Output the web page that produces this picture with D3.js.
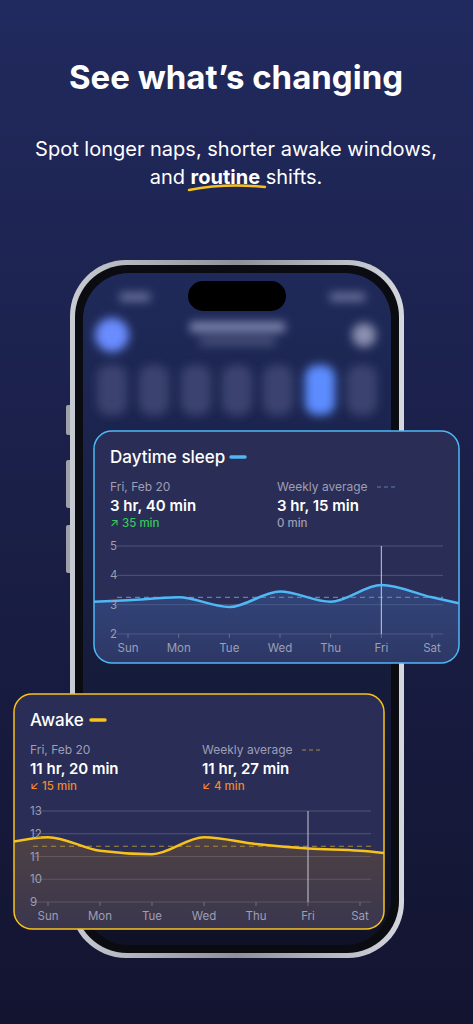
<!DOCTYPE html>
<html><head><meta charset="utf-8">
<script src="https://cdn.jsdelivr.net/npm/d3@7"></script>
<style>
body{margin:0;background:#191c40;}
svg{display:block;font-family:Inter,"Noto Sans",sans-serif;}
</style></head>
<body><svg id="c" width="473" height="1024"></svg>
<script>
const DAYS = ["Sun","Mon","Tue","Wed","Thu","Fri","Sat"];
// x positions are day indexes; the first/last points are where the curve leaves the card
const SLEEP_X = [-0.69, 0, 1, 2, 3, 4, 5, 6, 6.53];
const SLEEP_Y = [3.1, 3.15, 3.25, 2.92, 3.45, 3.1, 3.67, 3.25, 3.05];
const SLEEP_AVG = 3.25;
const SLEEP_TICKS = [2, 3, 4, 5];
const AWAKE_X = [-0.67, 0, 1, 2, 3, 4, 5, 6, 6.48];
const AWAKE_Y = [11.65, 11.85, 11.25, 11.1, 11.85, 11.55, 11.35, 11.25, 11.15];
const AWAKE_AVG = 11.45;
const AWAKE_TICKS = [9, 10, 11, 12, 13];
const SELECTED = 5;

const svg = d3.select("#c");
const defs = svg.append("defs");
const bg = defs.append("linearGradient").attr("id","bg").attr("x1",0).attr("y1",0).attr("x2",0).attr("y2",1);
bg.append("stop").attr("offset",0).attr("stop-color","#212a5e");
bg.append("stop").attr("offset",1).attr("stop-color","#131430");
svg.append("rect").attr("width",473).attr("height",1024).attr("fill","url(#bg)");

// headline
svg.append("text").attr("x",236).attr("y",89).attr("text-anchor","middle").attr("fill","#fff")
  .attr("font-size",33).attr("font-weight",700).text("See what’s changing");
svg.append("text").attr("x",236).attr("y",156).attr("text-anchor","middle").attr("fill","#fff")
  .attr("font-size",20).text("Spot longer naps, shorter awake windows,");
const l2 = svg.append("text").attr("x",236).attr("y",184).attr("text-anchor","middle").attr("fill","#fff").attr("font-size",20);
l2.append("tspan").text("and ");
l2.append("tspan").attr("font-weight",700).text("routine");
l2.append("tspan").text(" shifts.");
svg.append("path").attr("d","M189,190 Q225,183 265,187").attr("fill","none").attr("stroke","#f6c11c").attr("stroke-width",2.5).attr("stroke-linecap","round");

// phone
const blur = defs.append("filter").attr("id","blur").attr("x","-50%").attr("y","-50%").attr("width","200%").attr("height","200%");
blur.append("feGaussianBlur").attr("stdDeviation",5);
const bez = defs.append("linearGradient").attr("id","bez").attr("x1",0).attr("x2",1);
bez.append("stop").attr("offset",0).attr("stop-color","#c9cbd3");
bez.append("stop").attr("offset",0.5).attr("stop-color","#8e909a");
bez.append("stop").attr("offset",1).attr("stop-color","#d5d7de");
[[66,405,30],[66,460,48],[66,525,48],[401,460,70]].forEach(b=>
  svg.append("rect").attr("x",b[0]).attr("y",b[1]).attr("width",6).attr("height",b[2]).attr("rx",2).attr("fill","#9ea0aa"));
svg.append("rect").attr("x",70).attr("y",260).attr("width",334).attr("height",698).attr("rx",56).attr("fill","url(#bez)");
svg.append("rect").attr("x",75).attr("y",265).attr("width",324).attr("height",688).attr("rx",52).attr("fill","#0b0b12");
const scr = defs.append("linearGradient").attr("id","scr").attr("x1",0).attr("y1",0).attr("x2",0).attr("y2",1);
scr.append("stop").attr("offset",0).attr("stop-color","#1f2a5a");
scr.append("stop").attr("offset",1).attr("stop-color","#0f1226");
svg.append("rect").attr("x",83).attr("y",273).attr("width",308).attr("height",672).attr("rx",46).attr("fill","url(#scr)");
svg.append("rect").attr("x",188).attr("y",281).attr("width",98).attr("height",30).attr("rx",15).attr("fill","#000");
const bl = svg.append("g").attr("filter","url(#blur)");
bl.append("circle").attr("cx",112).attr("cy",335).attr("r",17).attr("fill","#6b8cff");
bl.append("circle").attr("cx",364).attr("cy",335).attr("r",12).attr("fill","#8a90b0");
bl.append("rect").attr("x",190).attr("y",322).attr("width",95).attr("height",10).attr("fill","#8088b0");
bl.append("rect").attr("x",200).attr("y",338).attr("width",75).attr("height",7).attr("fill","#505880");
bl.append("rect").attr("x",120).attr("y",293).attr("width",30).attr("height",8).attr("fill","#7077a0");
bl.append("rect").attr("x",330).attr("y",293).attr("width",35).attr("height",8).attr("fill","#7077a0");
[112,154,196,237,278,320,362].forEach((x,i)=>
  bl.append("rect").attr("x",x-15).attr("y",365).attr("width",30).attr("height",50).attr("rx",12)
    .attr("fill", i===5 ? "#5b8cff" : "#3a4270"));

function card(o){
  const g = svg.append("g");
  const cid = "clip"+o.id;
  defs.append("clipPath").attr("id",cid).append("rect").attr("x",o.x).attr("y",o.y).attr("width",o.w).attr("height",o.h).attr("rx",18);
  g.append("rect").attr("x",o.x).attr("y",o.y).attr("width",o.w).attr("height",o.h).attr("rx",18).attr("fill","#2a2d55");
  g.append("text").attr("x",o.x+16).attr("y",o.y+32).attr("fill","#fff").attr("font-size",17).attr("font-weight",500).text(o.title);
  g.append("line").attr("x1",o.x+o.tw).attr("x2",o.x+o.tw+14).attr("y1",o.y+26).attr("y2",o.y+26).attr("stroke",o.color).attr("stroke-width",3.5).attr("stroke-linecap","round");
  const c2 = o.x+o.c2;
  g.append("text").attr("x",o.x+16).attr("y",o.y+60).attr("fill","#9c9fb6").attr("font-size",12).text("Fri, Feb 20");
  g.append("text").attr("x",c2).attr("y",o.y+60).attr("fill","#9c9fb6").attr("font-size",12).text("Weekly average");
  g.append("line").attr("x1",c2+100).attr("x2",c2+120).attr("y1",o.y+56).attr("y2",o.y+56).attr("stroke",o.dash).attr("stroke-width",1.2).attr("stroke-dasharray","4,3");
  g.append("text").attr("x",o.x+16).attr("y",o.y+80).attr("fill","#fff").attr("font-size",15).attr("font-weight",600).text(o.v1);
  g.append("text").attr("x",c2).attr("y",o.y+80).attr("fill","#fff").attr("font-size",15).attr("font-weight",600).text(o.v2);
  g.append("text").attr("x",o.x+16).attr("y",o.y+96).attr("fill",o.d1c).attr("font-size",11.5).attr("font-weight",500).text(o.d1);
  g.append("text").attr("x",c2).attr("y",o.y+96).attr("fill",o.d2c).attr("font-size",11.5).attr("font-weight",500).text(o.d2);

  const x = d3.scaleLinear().domain([0,6]).range(o.xr);
  const y = d3.scaleLinear().domain(d3.extent(o.ticks)).range(o.yr);
  const cg = g.append("g").attr("clip-path",`url(#${cid})`);
  cg.append("g").selectAll("line").data(o.ticks).join("line")
    .attr("x1",o.gx[0]).attr("x2",o.gx[1]).attr("y1",d=>y(d)).attr("y2",d=>y(d)).attr("stroke","#50547a").attr("stroke-width",1);
  g.append("g").selectAll("text").data(o.ticks).join("text")
    .attr("x",o.x+16).attr("y",d=>y(d)+4).attr("fill","#9c9fb6").attr("font-size",11.5).text(d=>d);
  const pts = o.xs.map((v,i)=>[x(v), y(o.ys[i])]);
  const af = defs.append("linearGradient").attr("id","af"+o.id).attr("x1",0).attr("y1",0).attr("x2",0).attr("y2",1);
  af.append("stop").attr("offset",0).attr("stop-color",o.fill).attr("stop-opacity",0.45);
  af.append("stop").attr("offset",1).attr("stop-color",o.fill).attr("stop-opacity",0.2);
  cg.append("path").attr("d",d3.area().x(d=>d[0]).y0(o.h+o.y).y1(d=>d[1]).curve(d3.curveMonotoneX)(pts)).attr("fill",`url(#af${o.id})`);
  cg.append("line").attr("x1",o.gx[0]).attr("x2",o.gx[1]).attr("y1",y(o.avg)).attr("y2",y(o.avg)).attr("stroke",o.dash).attr("stroke-width",1.2).attr("stroke-dasharray","5,4");
  cg.append("line").attr("x1",x(SELECTED)).attr("x2",x(SELECTED)).attr("y1",o.yr[1]).attr("y2",o.yr[0]).attr("stroke","#c8cad8").attr("stroke-width",1);
  cg.append("path").attr("d",d3.line().x(d=>d[0]).y(d=>d[1]).curve(d3.curveMonotoneX)(pts)).attr("fill","none").attr("stroke",o.color).attr("stroke-width",2.5);
  g.append("g").selectAll("line").data(DAYS).join("line")
    .attr("x1",(d,i)=>x(i)).attr("x2",(d,i)=>x(i)).attr("y1",o.yr[0]).attr("y2",o.yr[0]+4).attr("stroke","#6a6e90");
  g.append("g").selectAll("text").data(DAYS).join("text")
    .attr("x",(d,i)=>x(i)).attr("y",o.yr[0]+18).attr("text-anchor","middle").attr("fill","#9c9fb6").attr("font-size",11.5).text(d=>d);
  g.append("rect").attr("x",o.x).attr("y",o.y).attr("width",o.w).attr("height",o.h).attr("rx",18).attr("fill","none").attr("stroke",o.color).attr("stroke-width",1.5);
}

card({id:"s",x:94,y:431,w:365,h:232,title:"Daytime sleep",tw:137,color:"#4fb8f5",dash:"#5d7fb4",fill:"#3d62a8",
  c2:183,v1:"3 hr, 40 min",v2:"3 hr, 15 min",d1:"↗ 35 min",d1c:"#35c75a",d2:"0 min",d2c:"#9c9fb6",
  xs:SLEEP_X,ys:SLEEP_Y,avg:SLEEP_AVG,ticks:SLEEP_TICKS,xr:[128,432],yr:[634,546],gx:[117,443]});
card({id:"a",x:14,y:694,w:370,h:235,title:"Awake",tw:77,color:"#f7c21b",dash:"#a88a3c",fill:"#7a5a30",
  c2:188,v1:"11 hr, 20 min",v2:"11 hr, 27 min",d1:"↙ 15 min",d1c:"#f08a2c",d2:"↙ 4 min",d2c:"#f08a2c",
  xs:AWAKE_X,ys:AWAKE_Y,avg:AWAKE_AVG,ticks:AWAKE_TICKS,xr:[48,360],yr:[902,811],gx:[33,371]});
</script></body></html>
